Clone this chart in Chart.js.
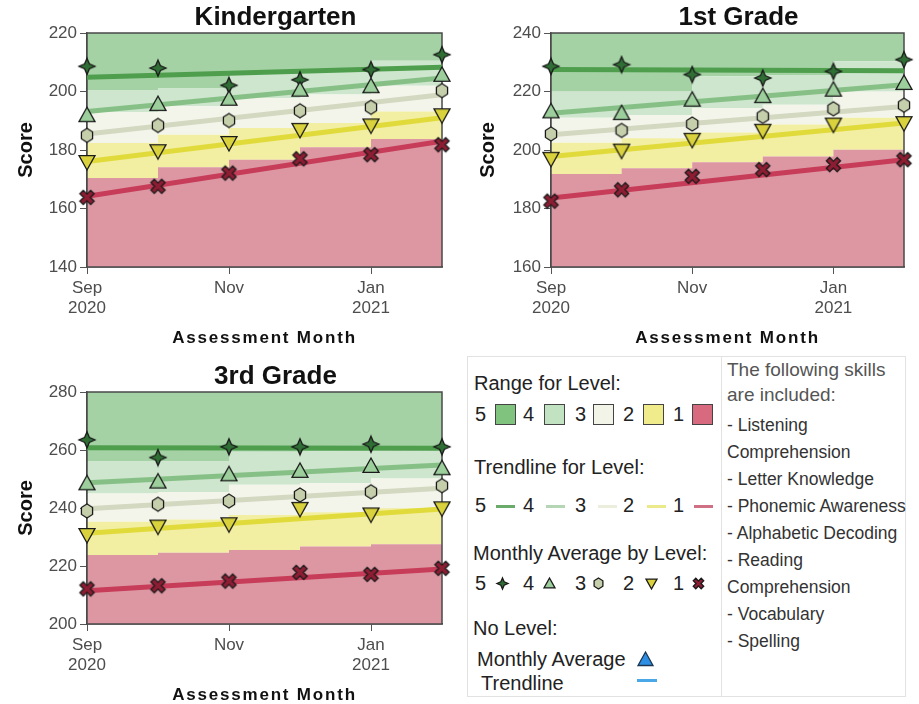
<!DOCTYPE html>
<html>
<head>
<meta charset="utf-8">
<title>Score by Assessment Month</title>
<script src="https://cdn.jsdelivr.net/npm/chart.js@4.4.1/dist/chart.umd.min.js"></script>
<style>
  body { margin: 0; width: 919px; height: 704px; position: relative; overflow: hidden; background: #fff;
         font-family: Arial, "Liberation Sans", sans-serif; color: #222; }
  .wrap { position: absolute; }
  .wrap canvas { display: block; }
  .lg { position: absolute; font-size: 20px; line-height: 24px; white-space: nowrap; color: #222; }
  .sw { position: absolute; top: 404px; width: 21px; height: 21px; border: 1.5px solid #444; box-sizing: border-box; }
  .ln { position: absolute; top: 505px; width: 19px; height: 3px; }
  .sk { position: absolute; left: 727px; font-size: 17.5px; line-height: 24px; color: #333; white-space: nowrap; }
  .hd { font-size: 19px; color: #555; }
</style>
</head>
<body>
<div class="wrap" style="left:0;top:0"><canvas id="kg" width="460" height="350"></canvas></div>
<div class="wrap" style="left:460px;top:0"><canvas id="g1" width="459" height="350"></canvas></div>
<div class="wrap" style="left:0;top:359px"><canvas id="g3" width="460" height="345"></canvas></div>

<div style="position:absolute;left:467px;top:356px;width:439px;height:341px;border:1px solid #e2e2e2;box-sizing:border-box"></div>
<div style="position:absolute;left:721px;top:357px;width:1px;height:339px;background:#e2e2e2"></div>

<div class="lg" style="left:474px;top:371px">Range for Level:</div>
<div class="lg" style="left:475px;top:402px">5</div>
<div class="sw" style="left:495px;background:#7fc37f"></div>
<div class="lg" style="left:523px;top:402px">4</div>
<div class="sw" style="left:544px;background:#c2e3c2"></div>
<div class="lg" style="left:575px;top:402px">3</div>
<div class="sw" style="left:593px;background:#f2f4e8"></div>
<div class="lg" style="left:623px;top:402px">2</div>
<div class="sw" style="left:643px;background:#f0ec8c"></div>
<div class="lg" style="left:673px;top:402px">1</div>
<div class="sw" style="left:692px;background:#d86a7f"></div>

<div class="lg" style="left:474px;top:455px">Trendline for Level:</div>
<div class="lg" style="left:475px;top:493px">5</div>
<div class="ln" style="left:496px;background:#6aaa6a"></div>
<div class="lg" style="left:523px;top:493px">4</div>
<div class="ln" style="left:546px;background:#b5d6b5"></div>
<div class="lg" style="left:575px;top:493px">3</div>
<div class="ln" style="left:598px;background:#eceedd"></div>
<div class="lg" style="left:623px;top:493px">2</div>
<div class="ln" style="left:647px;background:#ece98a"></div>
<div class="lg" style="left:673px;top:493px">1</div>
<div class="ln" style="left:694px;background:#d07085"></div>

<div class="lg" style="left:473px;top:541px">Monthly Average by Level:</div>
<div class="lg" style="left:475px;top:571px">5</div>
<div class="lg" style="left:523px;top:571px">4</div>
<div class="lg" style="left:575px;top:571px">3</div>
<div class="lg" style="left:623px;top:571px">2</div>
<div class="lg" style="left:673px;top:571px">1</div>

<div class="lg" style="left:473px;top:616px">No Level:</div>
<div class="lg" style="left:477px;top:647px">Monthly Average</div>
<div class="lg" style="left:481px;top:671px">Trendline</div>
<div style="position:absolute;left:637px;top:679px;width:20px;height:3px;background:#4aa8e8"></div>

<div class="sk hd" style="top:358px">The following skills</div>
<div class="sk hd" style="top:383px">are included:</div>
<div class="sk" style="top:413px">- Listening</div>
<div class="sk" style="top:440px">Comprehension</div>
<div class="sk" style="top:467px">- Letter Knowledge</div>
<div class="sk" style="top:494px">- Phonemic Awareness</div>
<div class="sk" style="top:521px">- Alphabetic Decoding</div>
<div class="sk" style="top:548px">- Reading</div>
<div class="sk" style="top:575px">Comprehension</div>
<div class="sk" style="top:602px">- Vocabulary</div>
<div class="sk" style="top:629px">- Spelling</div>

<script>
// months Sep 2020 .. Feb 2021 on a linear axis
const monthIndex = [0, 1, 2, 3, 4, 5];
const tickMonths = [0, 2, 4];
const tickLabels = [['Sep', '2020'], ['Nov'], ['Jan', '2021']];

// Kindergarten
const kgAvg1 = [163.8, 167.6, 172.1, 177.0, 178.4, 181.8];
const kgAvg2 = [175.9, 179.6, 182.4, 186.9, 188.4, 191.9];
const kgAvg3 = [185.0, 188.4, 190.1, 193.4, 194.6, 200.3];
const kgAvg4 = [191.9, 195.7, 197.5, 200.6, 201.8, 205.7];
const kgAvg5 = [208.6, 208.0, 202.1, 204.0, 207.5, 212.6];
const kgTrend1 = [164.2, 183.0];
const kgTrend2 = [176.1, 191.0];
const kgTrend3 = [185.5, 198.9];
const kgTrend4 = [193.2, 204.6];
const kgTrend5 = [204.9, 208.3];
const kgCut1 = [170.4, 174.1, 176.7, 180.9, 183.8, 183.8];
const kgCut2 = [182.4, 185.2, 187.5, 189.2, 193.2, 193.2];
const kgCut3 = [193.0, 195.0, 197.8, 199.0, 202.0, 202.0];
const kgCut4 = [200.5, 201.0, 206.0, 206.9, 210.5, 210.5];

// 1st Grade
const g1Avg1 = [182.5, 186.4, 191.0, 193.3, 195.0, 196.7];
const g1Avg2 = [197.0, 199.8, 203.5, 206.6, 208.7, 209.2];
const g1Avg3 = [205.5, 206.7, 208.9, 211.5, 214.1, 215.3];
const g1Avg4 = [213.2, 212.6, 217.2, 218.4, 220.6, 222.9];
const g1Avg5 = [228.6, 229.2, 225.8, 224.6, 226.9, 230.9];
const g1Trend1 = [183.6, 196.7];
const g1Trend2 = [197.8, 209.2];
const g1Trend3 = [205.2, 214.9];
const g1Trend4 = [212.6, 222.3];
const g1Trend5 = [227.5, 227.1];
const g1Cut1 = [191.8, 193.8, 195.8, 197.8, 200.1, 200.1];
const g1Cut2 = [202.5, 204.0, 206.0, 208.7, 211.0, 211.0];
const g1Cut3 = [211.0, 212.0, 214.4, 215.5, 220.0, 220.0];
const g1Cut4 = [220.0, 220.0, 225.2, 225.5, 230.3, 230.3];

// 3rd Grade
const g3Avg1 = [212.1, 213.2, 214.8, 217.8, 217.1, 219.2];
const g3Avg2 = [230.7, 233.6, 234.4, 239.7, 237.8, 239.9];
const g3Avg3 = [239.0, 241.3, 242.4, 244.5, 245.6, 247.7];
const g3Avg4 = [248.5, 249.1, 251.6, 252.8, 254.5, 253.7];
const g3Avg5 = [263.5, 257.4, 261.1, 261.1, 262.0, 261.1];
const g3Trend1 = [211.5, 219.0];
const g3Trend2 = [231.3, 239.7];
const g3Trend3 = [239.7, 246.8];
const g3Trend4 = [248.7, 254.8];
const g3Trend5 = [260.8, 260.6];
const g3Cut1 = [223.8, 224.6, 225.5, 226.7, 227.5, 227.5];
const g3Cut2 = [235.3, 236.0, 237.6, 238.5, 239.9, 239.9];
const g3Cut3 = [245.0, 245.5, 248.0, 248.5, 250.2, 250.2];
const g3Cut4 = [256.0, 256.0, 259.4, 259.5, 259.8, 259.8];

// level 1 .. 5
const bandColors = ['#dc97a3', '#f2eea2', '#f3f5ea', '#cde6cd', '#a5d2a5'];
const trendColors = ['#c73c58', '#e0da3a', '#d3d8c0', '#86c086', '#4e9e4e'];
const markerKinds = ['x', 'down', 'hex', 'up', 'star'];
const markerFills = ['#8c1d33', '#d9d23c', '#c6cfac', '#9dcf9d', '#2f6e34'];
const markerSizes = [15, 16, 14, 16, 16];

const FONT = 'Arial, "Liberation Sans", sans-serif';
Chart.defaults.font.family = FONT;

function markerCanvas(kind, s, fill, stroke) {
    const c = document.createElement('canvas');
    c.width = c.height = s + 4;
    const g = c.getContext('2d');
    const m = (s + 4) / 2, r = s / 2;
    g.translate(m, m);
    g.beginPath();
    if (kind === 'star') {
        const q = r * 0.3;
        g.moveTo(0, -r); g.lineTo(q, -q); g.lineTo(r, 0); g.lineTo(q, q);
        g.lineTo(0, r); g.lineTo(-q, q); g.lineTo(-r, 0); g.lineTo(-q, -q);
    } else if (kind === 'up') {
        g.moveTo(0, -r); g.lineTo(r, r * 0.8); g.lineTo(-r, r * 0.8);
    } else if (kind === 'down') {
        g.moveTo(0, r); g.lineTo(r, -r * 0.8); g.lineTo(-r, -r * 0.8);
    } else if (kind === 'hex') {
        for (let i = 0; i < 6; i++) {
            const a = Math.PI / 3 * i - Math.PI / 2;
            g.lineTo(r * 0.92 * Math.cos(a), r * Math.sin(a));
        }
    } else {
        g.rotate(Math.PI / 4);
        const a = r * 1.02, b = r * 0.32;
        g.moveTo(-b, -a); g.lineTo(b, -a); g.lineTo(b, -b); g.lineTo(a, -b); g.lineTo(a, b); g.lineTo(b, b);
        g.lineTo(b, a); g.lineTo(-b, a); g.lineTo(-b, b); g.lineTo(-a, b); g.lineTo(-a, -b); g.lineTo(-b, -b);
    }
    g.closePath();
    g.fillStyle = fill;
    g.fill();
    g.lineWidth = 1.3;
    g.strokeStyle = stroke || '#1a1a1a';
    g.stroke();
    return c;
}

const markers = markerKinds.map((k, i) => markerCanvas(k, markerSizes[i], markerFills[i]));

function points(vals) {
    return vals.map((v, i) => ({ x: monthIndex[i], y: v }));
}
function endpoints(vals) {
    return [{ x: monthIndex[0], y: vals[0] }, { x: monthIndex[monthIndex.length - 1], y: vals[1] }];
}

// plot frame, chart title and the letter-spaced x title
const decor = {
    id: 'decor',
    afterDatasetDraw(chart, args) {
        if (args.index !== 0) return;
        const { ctx, chartArea: a } = chart;
        ctx.save();
        ctx.strokeStyle = '#4a4a4a';
        ctx.lineWidth = 1.5;
        ctx.strokeRect(a.left, a.top, a.right - a.left, a.bottom - a.top);
        ctx.restore();
    },
    afterDraw(chart, args, opts) {
        const { ctx, chartArea: a } = chart;
        const cx = (a.left + a.right) / 2;
        ctx.save();
        ctx.fillStyle = '#111';
        ctx.textAlign = 'center';
        ctx.textBaseline = 'middle';
        ctx.font = 'bold 26px ' + FONT;
        ctx.fillText(opts.title, cx + 11, a.top - 15);
        ctx.font = 'bold 17px ' + FONT;
        ctx.letterSpacing = '1.8px';
        ctx.fillText('Assessment Month', cx, a.bottom + 71.5);
        ctx.restore();
    }
};

function gradeChart(id, g) {
    const datasets = [];
    g.cuts.forEach((c, i) => datasets.push({
        data: points(c), stepped: true, borderWidth: 0, pointRadius: 0,
        fill: i === 0 ? 'start' : '-1', backgroundColor: bandColors[i], order: 3
    }));
    datasets.push({
        data: points(g.cuts[3]), stepped: true, borderWidth: 0, pointRadius: 0,
        fill: 'end', backgroundColor: bandColors[4], order: 3
    });
    g.trends.forEach((t, i) => datasets.push({
        data: endpoints(t), borderColor: trendColors[i], borderWidth: 5,
        pointRadius: 0, fill: false, order: 2
    }));
    g.avgs.forEach((v, i) => datasets.push({
        data: points(v), showLine: false, pointStyle: markers[i], pointRadius: 8,
        fill: false, order: 1, clip: false
    }));

    return new Chart(document.getElementById(id), {
        type: 'line',
        data: { datasets },
        options: {
            responsive: false,
            animation: false,
            devicePixelRatio: 1,
            layout: { padding: { top: 33, right: g.padRight, left: 0, bottom: 0 } },
            plugins: {
                legend: { display: false },
                tooltip: { enabled: false },
                decor: { title: g.title }
            },
            scales: {
                x: {
                    type: 'linear',
                    min: monthIndex[0],
                    max: monthIndex[monthIndex.length - 1],
                    afterBuildTicks: (s) => { s.ticks = tickMonths.map((v) => ({ value: v })); },
                    afterFit: (s) => { s.height = g.axisH; },
                    ticks: {
                        callback: (v, i) => tickLabels[i],
                        color: '#4d4d4d',
                        font: { size: 17 },
                        padding: 4,
                        maxRotation: 0,
                        autoSkip: false
                    },
                    grid: { drawOnChartArea: false, tickLength: 7, color: '#555', tickColor: '#555' },
                    border: { display: true, color: '#4a4a4a', width: 1.5 }
                },
                y: {
                    min: g.yMin,
                    max: g.yMax,
                    z: 1,
                    afterFit: (s) => { s.width = g.axisW; },
                    ticks: { stepSize: 20, color: '#4d4d4d', font: { size: 17 }, padding: 3 },
                    grid: { color: 'rgba(0,0,0,0.07)', tickLength: 7, tickColor: '#555' },
                    border: { display: true, color: '#4a4a4a', width: 1.5 },
                    title: {
                        display: true,
                        text: 'Score',
                        color: '#111',
                        font: { size: 20, weight: 'bold' },
                        padding: { top: g.scoreX, bottom: 0 }
                    }
                }
            }
        },
        plugins: [decor]
    });
}

gradeChart('kg', {
    title: 'Kindergarten', yMin: 140, yMax: 220, axisW: 87, padRight: 18, axisH: 83, scoreX: 14,
    avgs: [kgAvg1, kgAvg2, kgAvg3, kgAvg4, kgAvg5],
    trends: [kgTrend1, kgTrend2, kgTrend3, kgTrend4, kgTrend5],
    cuts: [kgCut1, kgCut2, kgCut3, kgCut4]
});
gradeChart('g1', {
    title: '1st Grade', yMin: 160, yMax: 240, axisW: 91, padRight: 15, axisH: 83, scoreX: 16,
    avgs: [g1Avg1, g1Avg2, g1Avg3, g1Avg4, g1Avg5],
    trends: [g1Trend1, g1Trend2, g1Trend3, g1Trend4, g1Trend5],
    cuts: [g1Cut1, g1Cut2, g1Cut3, g1Cut4]
});
gradeChart('g3', {
    title: '3rd Grade', yMin: 200, yMax: 280, axisW: 87, padRight: 18, axisH: 80, scoreX: 14,
    avgs: [g3Avg1, g3Avg2, g3Avg3, g3Avg4, g3Avg5],
    trends: [g3Trend1, g3Trend2, g3Trend3, g3Trend4, g3Trend5],
    cuts: [g3Cut1, g3Cut2, g3Cut3, g3Cut4]
});

// legend markers
const legendMarkerX = [502, 549, 598, 651, 698];
markerKinds.slice().reverse().forEach((k, j) => {
    const i = markerKinds.length - 1 - j;
    const c = markerCanvas(k, 11, markerFills[i]);
    c.style.position = 'absolute';
    c.style.left = (legendMarkerX[j] - c.width / 2) + 'px';
    c.style.top = (583 - c.height / 2) + 'px';
    document.body.appendChild(c);
});
const blue = markerCanvas('up', 15, '#2d8fe3', '#1c3550');
blue.style.position = 'absolute';
blue.style.left = (645 - blue.width / 2) + 'px';
blue.style.top = (659 - blue.height / 2) + 'px';
document.body.appendChild(blue);
</script>
</body>
</html>
